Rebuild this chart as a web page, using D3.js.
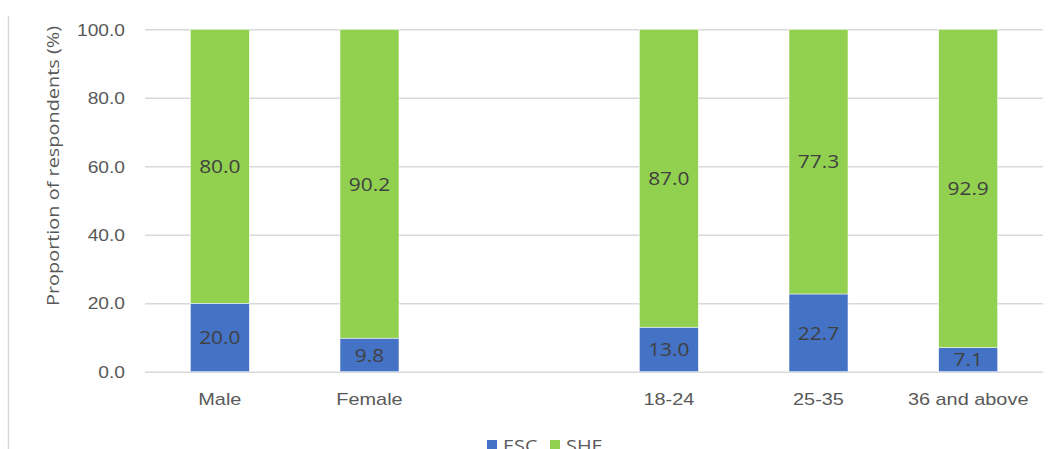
<!DOCTYPE html>
<html>
<head>
<meta charset="utf-8">
<script src="https://cdn.jsdelivr.net/npm/d3@7"></script>
<style>
  html, body { margin: 0; padding: 0; background: #fff; }
  svg { display: block; font-family: "Open Sans", sans-serif; }
</style>
</head>
<body>
<svg id="chart" width="1053" height="449"></svg>
<script>
// Respondent groups (the blank slot separates gender from age groups)
const categories = ["Male", "Female", "", "18-24", "25-35", "36 and above"];
const esc = [20.0, 9.8, null, 13.0, 22.7, 7.1];
const she = [80.0, 90.2, null, 87.0, 77.3, 92.9];
const seriesNames = ["ESC", "SHE"];
const seriesColors = ["#4472C4", "#92D050"];
const yTicks = [0, 20, 40, 60, 80, 100];

const svg = d3.select("#chart");
const margin = { left: 145, right: 10, top: 29.3, bottom: 77.3 };
const W = 1053, H = 449;

const x = d3.scaleBand()
  .domain(d3.range(categories.length))
  .range([margin.left, W - margin.right])
  .paddingInner(0.606)
  .paddingOuter(0.303);

const y = d3.scaleLinear()
  .domain([0, 100])
  .range([H - margin.bottom, margin.top]);

// outer border on the left
svg.append("line")
  .attr("x1", 8.5).attr("x2", 8.5)
  .attr("y1", 16).attr("y2", H)
  .attr("stroke", "#d9d9d9").attr("stroke-width", 1.5);

// gridlines
const yAxis = d3.axisLeft(y).tickValues(yTicks)
  .tickSize(-(W - margin.right - margin.left))
  .tickPadding(20)
  .tickFormat(d3.format(".1f"));

const gy = svg.append("g")
  .attr("transform", `translate(${margin.left},0)`)
  .call(yAxis);
gy.select(".domain").remove();
gy.selectAll(".tick line").attr("stroke", "#d9d9d9").attr("stroke-width", 1.5);
gy.selectAll(".tick text")
  .attr("fill", "#595959")
  .attr("dy", "0.36em")
  .style("font-size", "16px")
  .attr("data-stretch", 1.2);

// y-axis title
svg.append("text")
  .attr("data-stretch", 1.17)
  .attr("transform", `translate(59,166) rotate(-90)`)
  .attr("text-anchor", "middle")
  .attr("fill", "#595959")
  .style("font-size", "17px")
  .text("Proportion of respondents (%)");

// stacked data
const rows = categories.map((c, i) => ({ i, c, ESC: esc[i], SHE: she[i] }))
  .filter(d => d.ESC != null);
const stacked = d3.stack().keys(seriesNames)(rows);

const layers = svg.append("g").selectAll("g")
  .data(stacked)
  .join("g")
  .attr("fill", (d, k) => seriesColors[k]);

layers.selectAll("rect")
  .data(d => d)
  .join("rect")
  .attr("x", d => x(d.data.i))
  .attr("width", x.bandwidth())
  .attr("y", d => y(d[1]))
  .attr("height", d => y(d[0]) - y(d[1]))
  .attr("stroke", "#fff")
  .attr("stroke-width", 0.5);

// value labels centred in each segment
layers.selectAll("text")
  .data((d) => d.map(p => ({ p, key: d.key })))
  .join("text")
  .attr("data-stretch", 1.1)
  .attr("x", d => x(d.p.data.i) + x.bandwidth() / 2)
  .attr("y", d => y((d.p[0] + d.p[1]) / 2))
  .attr("dy", "0.36em")
  .attr("text-anchor", "middle")
  .attr("fill", "#404040")
  .style("font-size", "19px")
  .text(d => d3.format(".1f")(d.p.data[d.key]));

// category labels
const xAxis = d3.axisBottom(x).tickSize(0).tickPadding(0)
  .tickFormat(i => categories[i]);
const gx = svg.append("g")
  .attr("transform", `translate(0,${y(0)})`)
  .call(xAxis);
gx.select(".domain").remove();
gx.selectAll(".tick text")
  .attr("data-stretch", 1.17)
  .attr("y", 33.5)
  .attr("dy", 0)
  .attr("fill", "#595959")
  .style("font-size", "17px");

// legend
const legend = svg.append("g");
const legendX = [487, 550];
seriesNames.forEach((name, k) => {
  legend.append("rect")
    .attr("x", legendX[k]).attr("y", 440)
    .attr("width", 10).attr("height", 10)
    .attr("fill", seriesColors[k]);
  legend.append("text")
    .attr("data-stretch", 1.17)
    .attr("x", legendX[k] + 16).attr("y", 452)
    .attr("fill", "#595959")
    .style("font-size", "17px")
    .text(name);
});

// widen glyphs slightly to the face's proportions
svg.selectAll("text[data-stretch]").each(function () {
  const len = this.getComputedTextLength();
  const k = +this.getAttribute("data-stretch");
  if (len > 0) {
    d3.select(this)
      .attr("textLength", len * k)
      .attr("lengthAdjust", "spacingAndGlyphs");
  }
});
</script>
</body>
</html>
